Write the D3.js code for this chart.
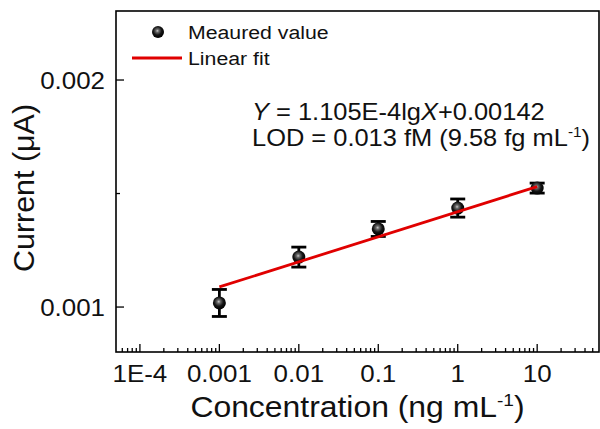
<!DOCTYPE html>
<html>
<head>
<meta charset="utf-8">
<script src="https://cdn.jsdelivr.net/npm/d3@7"></script>
<style>
  body { margin: 0; background: #fff; }
  svg { display: block; font-family: "Liberation Sans", Arial, sans-serif; }
</style>
</head>
<body>
<svg id="chart" width="600" height="429"></svg>
<script>
// concentration (ng/mL) and measured current (uA)
var conc = [0.001, 0.01, 0.1, 1, 10];
var current = [0.001018, 0.001220, 0.001344, 0.001436, 0.001524];
var errs = [0.0000595, 0.000044, 0.000033, 0.000040, 0.000022];

// linear fit end points
var fitX = [0.001, 10];
var fitY = [0.0010885, 0.0015305];

var xTicks = [1e-4, 1e-3, 1e-2, 1e-1, 1, 10];
var xTickLabels = ["1E-4", "0.001", "0.01", "0.1", "1", "10"];
var yTicks = [0.001, 0.002];
var yTickLabels = ["0.001", "0.002"];
var yMinor = [0.0015];

// plot box (note: "top" is reserved on window, so use other names)
var pLeft = 116, pRight = 599, pTop = 11, pBottom = 352;

var svg = d3.select("#chart");

var x = d3.scaleLog().domain([5e-5, 60]).range([pLeft, pRight]);
var y = d3.scaleLinear().domain([0.000802, 0.002304]).range([pBottom, pTop]);

function txt(g, px, py, anchor, size, sx) {
    return g.append("text")
        .attr("transform", "translate(" + px + "," + py + ") scale(" + sx + ",1)")
        .attr("text-anchor", anchor)
        .attr("font-size", size)
        .attr("fill", "#111");
}

// gradient for the ball markers
var defs = svg.append("defs");
var grad = defs.append("radialGradient").attr("id", "ball")
    .attr("cx", "45%").attr("cy", "40%").attr("r", "58%");
grad.append("stop").attr("offset", "0%").attr("stop-color", "#c8c8c8");
grad.append("stop").attr("offset", "22%").attr("stop-color", "#6a6a6a");
grad.append("stop").attr("offset", "60%").attr("stop-color", "#151515");
grad.append("stop").attr("offset", "100%").attr("stop-color", "#000");

// frame
svg.append("rect")
    .attr("x", pLeft).attr("y", pTop)
    .attr("width", pRight - pLeft).attr("height", pBottom - pTop)
    .attr("fill", "none").attr("stroke", "#000").attr("stroke-width", 1.6);

// x minor ticks
var xMinor = [];
for (var e = -5; e <= 1; e++) {
    for (var m = 2; m <= 9; m++) {
        var v = m * Math.pow(10, e);
        if (v > x.domain()[0] && v < x.domain()[1]) xMinor.push(v);
    }
}
svg.append("g").selectAll("line").data(xMinor).enter().append("line")
    .attr("x1", function(d) { return x(d); }).attr("x2", function(d) { return x(d); })
    .attr("y1", pBottom).attr("y2", pBottom - 4)
    .attr("stroke", "#000").attr("stroke-width", 1.3);

svg.append("g").selectAll("line").data(xTicks).enter().append("line")
    .attr("x1", function(d) { return x(d); }).attr("x2", function(d) { return x(d); })
    .attr("y1", pBottom).attr("y2", pBottom - 8)
    .attr("stroke", "#000").attr("stroke-width", 1.3);

var xl = svg.append("g");
xTicks.forEach(function(d, i) {
    txt(xl, x(d), 382, "middle", 24, 1.08).text(xTickLabels[i]);
});

// y ticks
svg.append("g").selectAll("line").data(yTicks).enter().append("line")
    .attr("x1", pLeft).attr("x2", pLeft + 8)
    .attr("y1", function(d) { return y(d); }).attr("y2", function(d) { return y(d); })
    .attr("stroke", "#000").attr("stroke-width", 1.3);
svg.append("g").selectAll("line").data(yMinor).enter().append("line")
    .attr("x1", pLeft).attr("x2", pLeft + 4)
    .attr("y1", function(d) { return y(d); }).attr("y2", function(d) { return y(d); })
    .attr("stroke", "#000").attr("stroke-width", 1.3);

var yl = svg.append("g");
yTicks.forEach(function(d, i) {
    txt(yl, 105, y(d) + 9, "end", 24, 1.08).text(yTickLabels[i]);
});

// axis titles
var xt = txt(svg, (pLeft + pRight) / 2, 417, "middle", 29, 1.1);
xt.append("tspan").text("Concentration (ng mL");
xt.append("tspan").attr("font-size", "0.6em").attr("dy", "-0.65em").text("-1");
xt.append("tspan").attr("dy", "0.39em").text(")");

svg.append("text")
    .attr("transform", "translate(34,188) rotate(-90) scale(1.05,1)")
    .attr("text-anchor", "middle")
    .attr("font-size", 29)
    .attr("fill", "#111")
    .text("Current (\u03bcA)");

// error bars
var eb = svg.append("g").attr("stroke", "#000").attr("stroke-width", 2.8);
conc.forEach(function(c, i) {
    var cx = x(c), lo = y(current[i] - errs[i]), hi = y(current[i] + errs[i]);
    eb.append("line").attr("x1", cx).attr("x2", cx).attr("y1", lo).attr("y2", hi);
    eb.append("line").attr("x1", cx - 7.5).attr("x2", cx + 7.5).attr("y1", lo).attr("y2", lo);
    eb.append("line").attr("x1", cx - 7.5).attr("x2", cx + 7.5).attr("y1", hi).attr("y2", hi);
});

// points
svg.append("g").selectAll("circle").data(conc).enter().append("circle")
    .attr("cx", function(d) { return x(d); })
    .attr("cy", function(d, i) { return y(current[i]); })
    .attr("r", 6.5)
    .attr("fill", "url(#ball)");

// fit line
svg.append("path")
    .datum(fitX.map(function(d, i) { return [d, fitY[i]]; }))
    .attr("d", d3.line().x(function(d) { return x(d[0]); }).y(function(d) { return y(d[1]); }))
    .attr("stroke", "#e00000").attr("stroke-width", 2.8).attr("fill", "none");

// legend
svg.append("circle").attr("cx", 158).attr("cy", 32).attr("r", 6).attr("fill", "url(#ball)");
txt(svg, 188, 38.5, "start", 19, 1.12).text("Meaured value");
svg.append("line").attr("x1", 132).attr("x2", 182).attr("y1", 58).attr("y2", 58)
    .attr("stroke", "#e00000").attr("stroke-width", 2.8);
txt(svg, 188, 65, "start", 19, 1.12).text("Linear fit");

// annotation
var a1 = txt(svg, 252, 120, "start", 24, 1.06);
a1.append("tspan").attr("font-style", "italic").text("Y");
a1.append("tspan").text(" = 1.105E-4lg");
a1.append("tspan").attr("font-style", "italic").text("X");
a1.append("tspan").text("+0.00142");

var a2 = txt(svg, 252, 146, "start", 24, 1.06);
a2.append("tspan").text("LOD = 0.013 fM (9.58 fg mL");
a2.append("tspan").attr("font-size", "0.6em").attr("dy", "-0.65em").text("-1");
a2.append("tspan").attr("dy", "0.39em").text(")");
</script>
</body>
</html>
